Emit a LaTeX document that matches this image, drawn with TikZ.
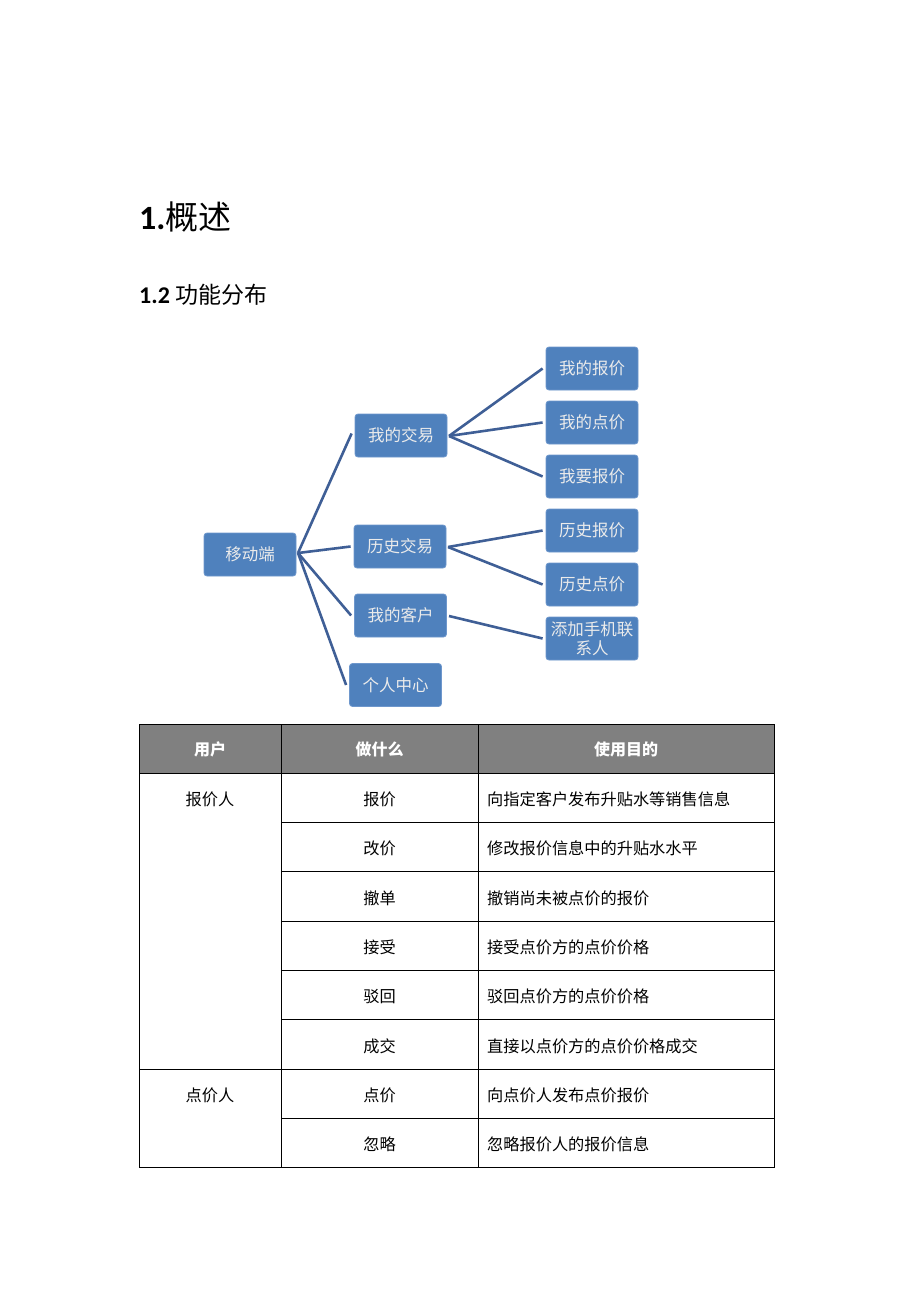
\documentclass[tikz,border=0pt]{standalone}
\usepackage{fontspec}
\setmainfont{Carlito}
\newfontfamily\cjk{Noto Sans CJK SC}
\definecolor{boxblue}{HTML}{4F81BD}
\definecolor{boxedge}{HTML}{6E97CC}
\definecolor{linkblue}{HTML}{3F5F96}
\definecolor{hdrgray}{HTML}{808080}
\begin{document}
\begin{tikzpicture}[x=1pt,y=-1pt,
  tbox/.style={draw=boxedge,line width=0.8pt,fill=boxblue,rounded corners=3pt,
    minimum width=92pt,minimum height=43pt,inner sep=1pt,align=center,
    text=white!92!black,font=\cjk\fontsize{16.5}{18}\selectfont},
  link/.style={draw=linkblue,line width=2.6pt},
  grid/.style={draw=black,line width=0.9pt},
  ttext/.style={font=\cjk\fontsize{16.2}{18}\selectfont,inner sep=0pt},
  htext/.style={font=\cjk\fontsize{16}{18}\selectfont\bfseries,text=white,inner sep=0pt}]
\useasboundingbox (0,0) rectangle (920,1302);
% titles
\node[anchor=west,inner sep=0pt] (t1) at (139,217) {\fontsize{34}{40}\selectfont\bfseries 1.\mdseries\cjk\fontsize{33}{40}\selectfont 概述};
\node[anchor=west,inner sep=0pt] (t2) at (139,295) {\fontsize{24}{28}\selectfont\bfseries 1.2 \mdseries\cjk\fontsize{23}{28}\selectfont 功能分布};
% connectors
\coordinate (r0) at (298,553);
\coordinate (a0) at (449,436);
\coordinate (b0) at (448,547);
\coordinate (c0) at (449,616);
% tree nodes
\node[tbox] (root) at (250,554.5) {移动端};
\node[tbox] (a) at (401,435.5) {我的交易};
\node[tbox] (b) at (400,546.5) {历史交易};
\node[tbox] (c) at (400.5,615.5) {我的客户};
\node[tbox] (d) at (395.5,685) {个人中心};
\node[tbox] (a1) at (592,368.5) {我的报价};
\node[tbox] (a2) at (592,422.5) {我的点价};
\node[tbox] (a3) at (592,476.5) {我要报价};
\node[tbox] (b1) at (592,530.5) {历史报价};
\node[tbox] (b2) at (592,584.5) {历史点价};
\node[tbox,inner sep=0pt,font=\cjk\fontsize{16.5}{19}\selectfont] (c1) at (592,638.5) {添加手机联\\系人};
\draw[link] (r0) -- ([xshift=-3pt,yshift=2pt]a.west);
\draw[link] (r0) -- ([xshift=-3pt]b.west);
\draw[link] (r0) -- ([xshift=-3pt]c.west);
\draw[link] (r0) -- ([xshift=-3pt]d.west);
\draw[link] (a0) -- ([xshift=-3pt]a1.west);
\draw[link] (a0) -- ([xshift=-3pt]a2.west);
\draw[link] (a0) -- ([xshift=-3pt]a3.west);
\draw[link] (b0) -- ([xshift=-3pt]b1.west);
\draw[link] (b0) -- ([xshift=-3pt]b2.west);
\draw[link] (c0) -- ([xshift=-3pt]c1.west);
% table
\fill[hdrgray] (139,724) rectangle (774,773);
\draw[grid] (139,724) rectangle (774,1167);
\draw[grid] (281,724) -- (281,1167);
\draw[grid] (478,724) -- (478,1167);
\draw[grid] (139,773) -- (774,773);
\draw[grid] (139,1069) -- (774,1069);
\foreach \y in {822.3,871.7,921,970.3,1019.7,1118} {\draw[grid] (281,\y) -- (774,\y);}
\node[htext] (h1) at (210,749) {用户};
\node[htext] (h2) at (379.5,749) {做什么};
\node[htext] (h3) at (626,749) {使用目的};
\node[ttext] (u1) at (210,799) {报价人};
\node[ttext] (u2) at (210,1095) {点价人};
\node[ttext] (w1) at (379.5,799) {报价};
\node[ttext] (w2) at (379.5,848.5) {改价};
\node[ttext] (w3) at (379.5,898) {撤单};
\node[ttext] (w4) at (379.5,947) {接受};
\node[ttext] (w5) at (379.5,996.5) {驳回};
\node[ttext] (w6) at (379.5,1046) {成交};
\node[ttext] (w7) at (379.5,1095) {点价};
\node[ttext] (w8) at (379.5,1144.5) {忽略};
\node[ttext,anchor=west] (p1) at (487,799) {向指定客户发布升贴水等销售信息};
\node[ttext,anchor=west] (p2) at (487,848.5) {修改报价信息中的升贴水水平};
\node[ttext,anchor=west] (p3) at (487,898) {撤销尚未被点价的报价};
\node[ttext,anchor=west] (p4) at (487,947) {接受点价方的点价价格};
\node[ttext,anchor=west] (p5) at (487,996.5) {驳回点价方的点价价格};
\node[ttext,anchor=west] (p6) at (487,1046) {直接以点价方的点价价格成交};
\node[ttext,anchor=west] (p7) at (487,1095) {向点价人发布点价报价};
\node[ttext,anchor=west] (p8) at (487,1144.5) {忽略报价人的报价信息};
\end{tikzpicture}
\end{document}
